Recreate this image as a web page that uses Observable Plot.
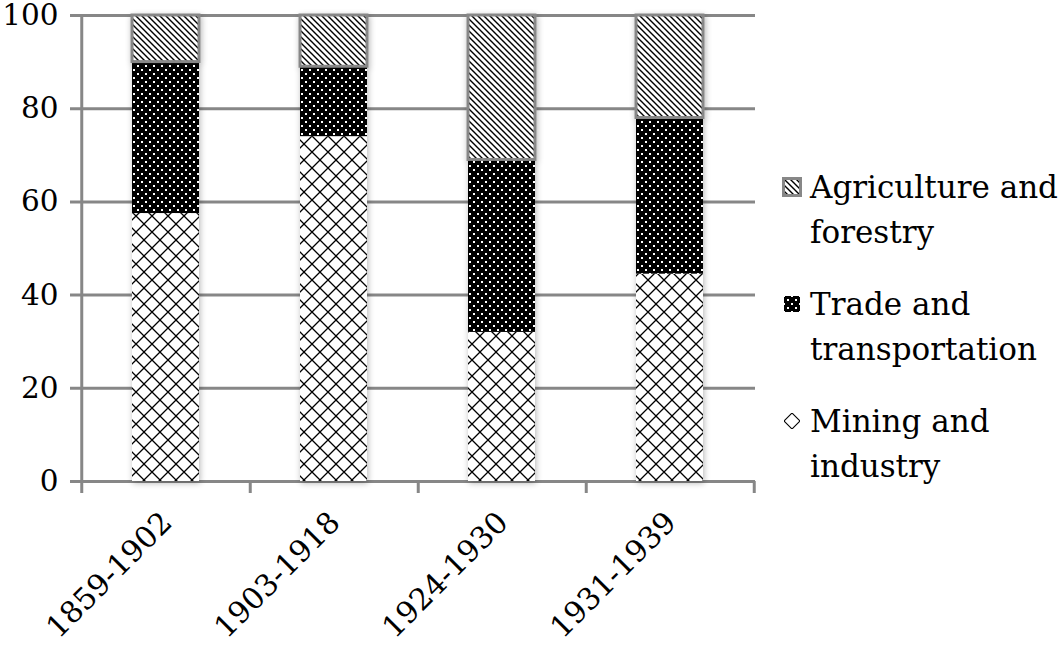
<!DOCTYPE html>
<html>
<head>
<meta charset="utf-8">
<script src="https://cdn.jsdelivr.net/npm/d3@7"></script>
<script src="https://cdn.jsdelivr.net/npm/@observablehq/plot@0.6"></script>
<style>
  html, body { margin: 0; padding: 0; background: #fff; }
  #wrap { position: relative; width: 1063px; height: 646px; }
  #legend { position: absolute; left: 782px; top: 165px; font-family: "DejaVu Serif", serif; font-size: 31px; line-height: 45px; color: #000; }
  .item { display: flex; align-items: flex-start; margin-bottom: 27px; }
  .item svg { flex: none; margin-top: 12px; margin-right: 8px; }
</style>
</head>
<body>
<div id="wrap"></div>
<script>
const categories = ["1859-1902", "1903-1918", "1924-1930", "1931-1939"];
const series = ["Mining and industry", "Trade and transportation", "Agriculture and forestry"];
const mining = [57.5, 74, 32, 44.5];
const trade = [32.5, 15, 37, 33.5];
const agriculture = [10, 11, 31, 22];
const yTicks = [0, 20, 40, 60, 80, 100];
const legendLines = [["Agriculture and", "forestry"], ["Trade and", "transportation"], ["Mining and", "industry"]];

const gray = "#878787";
const font = "DejaVu Serif";
const W = 1063, H = 646;
const mL = 81, mR = 308, mT = 15, mB = 165;
const padIn = 0.6, padOut = 0.3;
const step = (W - mL - mR) / (categories.length - padIn + 2 * padOut);

const values = [mining, trade, agriculture];
const rows = [];
categories.forEach((c, i) => {
  let base = 0;
  series.forEach((s, k) => {
    const v = values[k][i];
    rows.push({category: c, sector: s, y1: base, y2: base + v});
    base += v;
  });
});
const patterns = {
  "Mining and industry": "url(#pMining)",
  "Trade and transportation": "url(#pTrade)",
  "Agriculture and forestry": "url(#pAgri)"
};
const swatchPatterns = {
  "Mining and industry": "url(#pMiningSw)",
  "Trade and transportation": "url(#pTrade)",
  "Agriculture and forestry": "url(#pAgri)"
};

const defsXML = `
<pattern id="pAgri" patternUnits="userSpaceOnUse" width="6" height="6">
  <rect width="6" height="6" fill="#fff"/>
  <path d="M-1,-1L7,7M-1,5L1,7M5,-1L7,1" stroke="#000" stroke-width="1.4"/>
</pattern>
<pattern id="pTrade" patternUnits="userSpaceOnUse" width="8" height="8">
  <rect width="8" height="8" fill="#000"/>
  <rect x="1" y="1" width="2" height="2" fill="#fff"/>
  <rect x="5" y="5" width="2" height="2" fill="#fff"/>
</pattern>
<pattern id="pMining" patternUnits="userSpaceOnUse" width="16" height="16">
  <rect width="16" height="16" fill="#fff"/>
  <path d="M0,0L16,16M16,0L0,16" stroke="#000" stroke-width="1.3"/>
</pattern>
<pattern id="pMiningSw" patternUnits="userSpaceOnUse" x="10" y="2" width="16" height="16">
  <rect width="16" height="16" fill="#fff"/>
  <path d="M0,0L16,16M16,0L0,16" stroke="#000" stroke-width="1.1"/>
</pattern>
<filter id="shadow" x="-30%" y="-10%" width="160%" height="120%">
  <feGaussianBlur in="SourceAlpha" stdDeviation="3"/>
  <feOffset dx="1" dy="2" result="b"/>
  <feComponentTransfer><feFuncA type="linear" slope="0.3"/></feComponentTransfer>
  <feMerge><feMergeNode/><feMergeNode in="SourceGraphic"/></feMerge>
</filter>`;

const defsMark = () => {
  const d = document.createElementNS("http://www.w3.org/2000/svg", "defs");
  d.innerHTML = defsXML;
  return d;
};

const barMark = (s) => Plot.barY(rows.filter(r => r.sector === s), {
  x: "category", y1: "y1", y2: "y2",
  fill: patterns[s],
  stroke: s === "Agriculture and forestry" ? gray : "none",
  strokeWidth: 3
});

const chart = Plot.plot({
  width: W, height: H,
  marginLeft: mL, marginRight: mR, marginTop: mT, marginBottom: mB,
  style: {fontFamily: font, background: "transparent", overflow: "visible"},
  x: {domain: categories, paddingInner: padIn, paddingOuter: padOut, axis: null},
  y: {domain: [0, 100], axis: null},
  marks: [
    defsMark,
    Plot.ruleY(yTicks, {stroke: gray, strokeWidth: 3, insetLeft: -11}),
    Plot.ruleX([categories[0]], {x: d => d, dx: -step / 2, y1: 100, y2: 0, insetBottom: -12, stroke: gray, strokeWidth: 3}),
    Plot.ruleX(categories, {x: d => d, dx: step / 2, y1: 0, y2: 0, insetBottom: -12, stroke: gray, strokeWidth: 3}),
    ...series.map(barMark),
    Plot.text(yTicks, {y: d => d, frameAnchor: "left", textAnchor: "end", dx: -23, text: d => String(d), fontSize: 29.5, fill: "#000"}),
    Plot.text(categories, {x: d => d, frameAnchor: "bottom", text: d => d, rotate: -45, textAnchor: "end", lineAnchor: "middle", dy: 36, dx: 1, fontSize: 30, fill: "#000"})
  ]
});

// group the bars under one shadow filter
const svg = d3.select(chart);
const bars = svg.selectAll('g[aria-label="bar"]').nodes();
if (bars.length) {
  const g = document.createElementNS("http://www.w3.org/2000/svg", "g");
  g.setAttribute("filter", "url(#shadow)");
  bars[0].parentNode.insertBefore(g, bars[0]);
  bars.forEach(b => g.appendChild(b));
}

const wrap = document.getElementById("wrap");
wrap.appendChild(chart);

// legend
const legend = document.createElement("div");
legend.id = "legend";
const legendOrder = ["Agriculture and forestry", "Trade and transportation", "Mining and industry"];
legendOrder.forEach((s, i) => {
  const item = document.createElement("div");
  item.className = "item";
  const sw = document.createElementNS("http://www.w3.org/2000/svg", "svg");
  sw.setAttribute("width", 20); sw.setAttribute("height", 20);
  const r = document.createElementNS("http://www.w3.org/2000/svg", "rect");
  if (s === "Agriculture and forestry") {
    r.setAttribute("x", 1.5); r.setAttribute("y", 1.5); r.setAttribute("width", 17); r.setAttribute("height", 17);
    r.setAttribute("stroke", gray); r.setAttribute("stroke-width", 3);
  } else {
    r.setAttribute("x", 2); r.setAttribute("y", 2); r.setAttribute("width", 16); r.setAttribute("height", 16);
  }
  r.setAttribute("fill", swatchPatterns[s]);
  sw.appendChild(r);
  item.appendChild(sw);
  const t = document.createElement("div");
  t.innerHTML = legendLines[i].join("<br>");
  item.appendChild(t);
  legend.appendChild(item);
});
wrap.appendChild(legend);
</script>
</body>
</html>
